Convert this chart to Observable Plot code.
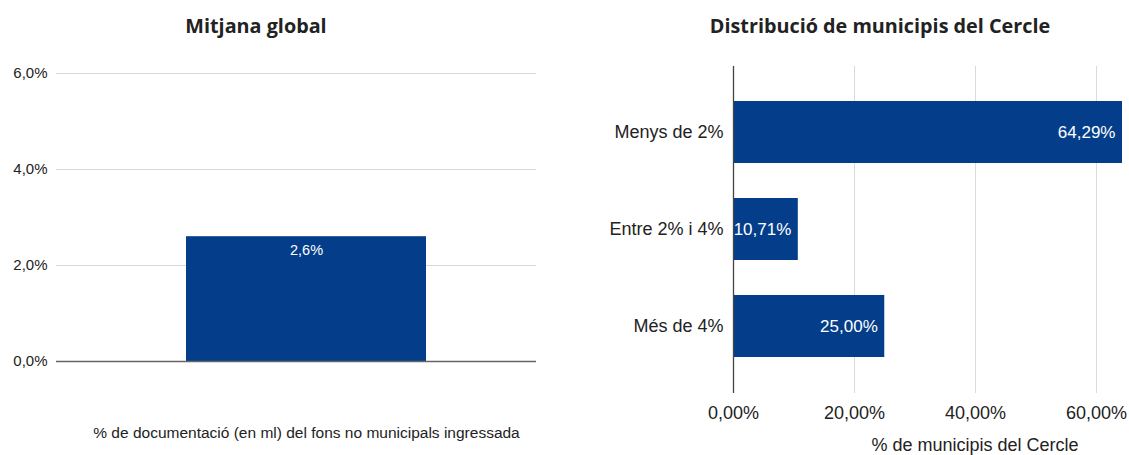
<!DOCTYPE html>
<html>
<head>
<meta charset="utf-8">
<script src="https://cdn.jsdelivr.net/npm/d3@7"></script>
<script src="https://cdn.jsdelivr.net/npm/@observablehq/plot@0.6"></script>
<style>
  html, body { margin: 0; padding: 0; background: #fff; }
  #root { position: relative; width: 1129px; height: 455px; overflow: hidden; font-family: "Liberation Sans", Arial, sans-serif; }
  .title { position: absolute; transform: translateX(-50%); white-space: nowrap; font-family: "Open Sans", Lato, sans-serif; font-weight: bold; font-size: 19.8px; line-height: 20px; color: #222; }
  .axtitle { position: absolute; transform: translateX(-50%); white-space: nowrap; font-size: 18px; line-height: 18px; color: #222; }
  .panel { position: absolute; }
</style>
</head>
<body>
<div id="root">
  <div class="title" id="t1" style="left:256px; top:16px;"></div>
  <div class="title" id="t2" style="left:880px; top:16px;"></div>
  <div class="panel" id="left" style="left:0px; top:50px;"></div>
  <div class="panel" id="right" style="left:580px; top:50px;"></div>
  <div class="axtitle" id="xt2" style="left:975px; top:436px;"></div>
</div>
<script>
// ---- data ----
const leftTitle = "Mitjana global";
const leftCategories = ["% de documentació (en ml) del fons no municipals ingressada"];
const leftValues = [2.6];
const leftTicks = [0, 2, 4, 6];

const rightTitle = "Distribució de municipis del Cercle";
const rightCategories = ["Menys de 2%", "Entre 2% i 4%", "Més de 4%"];
const rightValues = [64.29, 10.71, 25.00];
const rightTicks = [0, 20, 40, 60];
const rightAxisTitle = "% de municipis del Cercle";

// ---- helpers ----
const BLUE = "#043e8a";
const fmt1 = d => d.toFixed(1).replace(".", ",") + "%";
const fmt2 = d => d.toFixed(2).replace(".", ",") + "%";

document.getElementById("t1").textContent = leftTitle;
document.getElementById("t2").textContent = rightTitle;
document.getElementById("xt2").textContent = rightAxisTitle;

const leftData = leftCategories.map((c, i) => ({cat: c, value: leftValues[i]}));
const rightData = rightCategories.map((c, i) => ({cat: c, value: rightValues[i]}));

// ---- left chart ----
const left = Plot.plot({
  width: 560,
  height: 405,
  marginLeft: 56,
  marginRight: 24,
  marginTop: 23,
  marginBottom: 94,
  style: {fontFamily: "'Liberation Sans', Arial, sans-serif", fontSize: "15px", color: "#222", background: "white"},
  x: {domain: leftCategories, paddingInner: 0, paddingOuter: 0.496, align: 0.54, label: null},
  y: {domain: [0, 6], label: null},
  marks: [
    Plot.ruleY(leftTicks.filter(t => t > 0), {stroke: "#dadada", strokeWidth: 1}),
    Plot.barY(leftData, {x: "cat", y: "value", fill: BLUE}),
    Plot.ruleY([0], {stroke: "#666", strokeWidth: 1.3}),
    Plot.text(leftData, {x: "cat", y: "value", text: d => fmt1(d.value), fill: "white", lineAnchor: "top", dy: 8, fontSize: 14.5}),
    Plot.axisY({ticks: leftTicks, tickFormat: fmt1, tickSize: 0, tickPadding: 9, label: null, fill: "#222", fontSize: 15}),
    Plot.axisX({tickSize: 0, tickPadding: 65, label: null, fill: "#222", fontSize: 15.5})
  ]
});
document.getElementById("left").appendChild(left);

// ---- right chart ----
const right = Plot.plot({
  width: 549,
  height: 405,
  marginLeft: 153,
  marginRight: 7,
  marginTop: 16,
  marginBottom: 62,
  style: {fontFamily: "'Liberation Sans', Arial, sans-serif", fontSize: "18px", color: "#222", background: "white"},
  x: {domain: [0, d3.max(rightValues)], label: null},
  y: {domain: rightCategories, paddingInner: 0.357, paddingOuter: 0.347, label: null},
  marks: [
    Plot.ruleX(rightTicks.filter(t => t > 0), {stroke: "#dadada", strokeWidth: 1}),
    Plot.barX(rightData, {x: "value", y: "cat", fill: BLUE}),
    Plot.ruleX([0], {stroke: "#444", strokeWidth: 1.3}),
    Plot.text(rightData, {x: "value", y: "cat", text: d => fmt2(d.value), fill: "white", textAnchor: "end", dx: -7, fontSize: 17}),
    Plot.axisX({ticks: rightTicks, tickFormat: fmt2, tickSize: 0, tickPadding: 13, label: null, fill: "#222", fontSize: 18}),
    Plot.axisY({tickSize: 0, tickPadding: 10, label: null, fill: "#222", fontSize: 18})
  ]
});
document.getElementById("right").appendChild(right);
</script>
</body>
</html>
